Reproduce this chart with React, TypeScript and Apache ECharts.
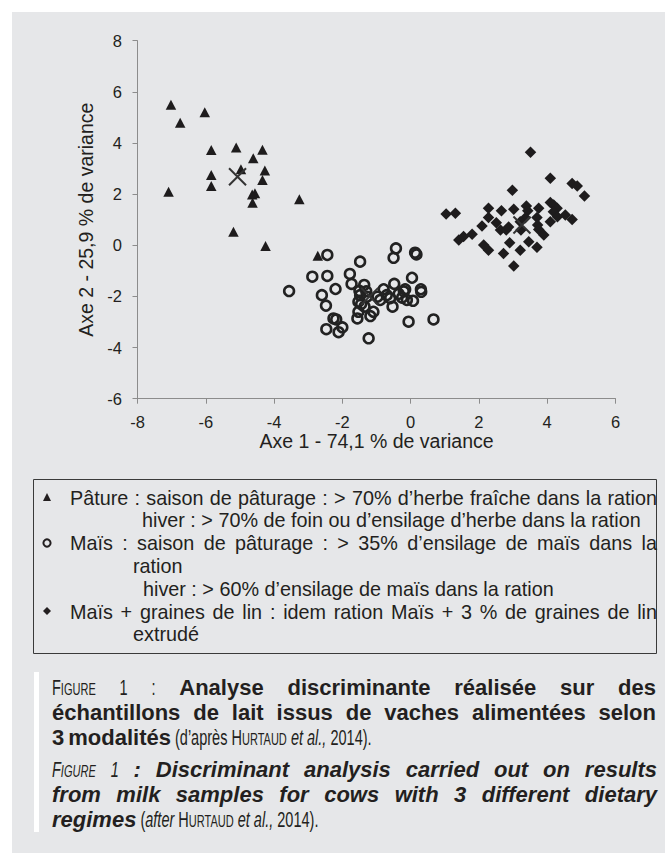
import React, { useEffect, useRef } from "react";
import * as echarts from "echarts";

const FONT = "'Liberation Sans', Arial, Helvetica, sans-serif";
const TXT = "#231f20";

// ---- axes ----
const xAxisRange = [-8, 6];
const yAxisRange = [-6, 8];
const axisStep = 2;
const xAxisName = "Axe 1 - 74,1 % de variance";
const yAxisName = "Axe 2 - 25,9 % de variance";

// ---- data ----
const paturePoints = [
  [-7.02, 5.5], [-6.75, 4.79], [-6.03, 5.2], [-5.84, 3.73], [-5.11, 3.82],
  [-4.34, 3.74], [-4.61, 3.4], [-5.84, 2.75], [-5.84, 2.32], [-4.97, 2.97],
  [-4.27, 2.92], [-4.34, 2.55], [-4.64, 1.99], [-4.56, 2.03], [-4.63, 1.66],
  [-7.09, 2.09], [-3.26, 1.8], [-5.19, 0.53], [-4.25, -0.03], [-2.72, -0.41],
];

const maisPoints = [
  [-2.44, -0.38], [-0.43, -0.12], [-0.5, -0.49], [0.13, -0.29], [0.17, -0.36],
  [-1.48, -0.64], [-2.88, -1.23], [-2.44, -1.2], [-1.78, -1.12], [-3.56, -1.79],
  [-2.6, -1.95], [-2.2, -1.71], [-2.48, -2.36], [-1.73, -1.51], [-1.36, -1.55],
  [-1.48, -1.95], [-1.53, -2.21], [-1.28, -2.01], [-1.35, -2.4], [-1.53, -2.6],
  [-1.56, -2.86], [-1.18, -2.77], [-1.09, -2.6], [-0.97, -2.01], [-0.79, -1.72],
  [-0.48, -1.51], [-0.6, -2.07], [-0.89, -2.14], [-0.53, -2.4], [-0.16, -1.72],
  [-0.11, -2.14], [0.07, -2.17], [0.04, -1.27], [0.3, -1.72], [0.31, -1.82],
  [-2.26, -2.86], [-2.18, -2.9], [-2.47, -3.28], [-2.11, -3.4], [-2.0, -3.21],
  [-1.23, -3.64], [-0.06, -2.99], [0.67, -2.9], [-1.5, -1.78], [-1.3, -1.8],
  [-0.7, -1.95], [-0.35, -1.9], [-0.25, -2.05], [-1.45, -2.3], [-0.2, -1.8],
];

const linPoints = [
  [3.51, 3.64], [4.09, 2.62], [2.98, 2.15], [4.73, 2.42], [4.88, 2.32],
  [5.09, 1.93], [1.04, 1.22], [1.31, 1.25], [2.28, 1.45], [2.66, 1.35],
  [3.02, 1.41], [3.39, 1.54], [3.43, 1.35], [3.75, 1.45], [4.09, 1.67],
  [4.19, 1.57], [4.29, 1.45], [4.53, 1.18], [4.73, 1.01], [2.28, 1.09],
  [2.09, 0.75], [2.51, 0.88], [2.63, 0.6], [2.8, 0.6], [3.23, 0.6],
  [3.36, 1.08], [3.21, 0.92], [3.7, 1.09], [3.72, 0.79], [3.75, 0.62],
  [4.09, 0.92], [3.9, 0.4], [1.41, 0.21], [1.55, 0.34], [1.8, 0.43],
  [2.14, 0.01], [2.28, -0.19], [2.72, -0.32], [2.9, 0.1], [3.21, -0.19],
  [3.46, 0.14], [3.7, -0.08], [3.02, -0.81], [2.87, 0.71], [4.18, 1.31],
  [4.3, 1.12],
];

const centroidPoints = [[-5.07, 2.68], [-1.2, -2.0], [3.26, 0.79]];

// ---- texts ----
type Seg = [string, string];
const legendLines: Seg[][] = [
  [["r", "Pâture : saison de pâturage : > 70% d’herbe fraîche dans la ration"]],
  [["r", "hiver : > 70% de foin ou d’ensilage d’herbe dans la ration"]],
  [["r", "Maïs : saison de pâturage : > 35% d’ensilage de maïs dans la"]],
  [["r", "ration"]],
  [["r", "hiver : > 60% d’ensilage de maïs dans la ration"]],
  [["r", "Maïs + graines de lin : idem ration Maïs + 3 % de graines de lin"]],
  [["r", "extrudé"]],
];

const captionLines: Seg[][] = [
  [["r", "F"], ["rs", "IGURE"], ["r", " 1 : "], ["b", "Analyse discriminante réalisée sur des"]],
  [["b", "échantillons de lait issus de vaches alimentées selon"]],
  [["b", "3 modalités"], ["r", " (d’après "], ["r", "H"], ["rs", "URTAUD"], ["r", " "], ["i", "et al.,"], ["r", " 2014)."]],
  [["i", "F"], ["is", "IGURE"], ["i", " 1"], ["bi", " : Discriminant analysis carried out on results"]],
  [["bi", "from milk samples for cows with 3 different dietary"]],
  [["bi", "regimes"], ["r", " ("], ["i", "after"], ["r", " H"], ["rs", "URTAUD"], ["r", " "], ["i", "et al.,"], ["r", " 2014)."]],
];

// layout (positions only)
const legendLayout = [
  { x: 70, y: 498, j: 657 },
  { x: 142, y: 520 },
  { x: 70, y: 543, j: 657 },
  { x: 133, y: 566 },
  { x: 143, y: 589 },
  { x: 70, y: 612, j: 657 },
  { x: 133, y: 634 },
];
const captionLayout = [
  { x: 52, y: 687, j: 656 },
  { x: 52, y: 712, j: 656 },
  { x: 52, y: 737 },
  { x: 52, y: 769, j: 657 },
  { x: 52, y: 794, j: 657 },
  { x: 52, y: 819 },
];

type FontSpec = { size: number; weight: string; style: string; sx: number };

function makeFonts(size: number, regSx: number, boldSx: number): Record<string, FontSpec> {
  const s = Math.round(size * 0.76 * 10) / 10;
  return {
    r: { size, weight: "normal", style: "normal", sx: regSx },
    rs: { size: s, weight: "normal", style: "normal", sx: regSx },
    b: { size, weight: "bold", style: "normal", sx: boldSx },
    i: { size, weight: "normal", style: "italic", sx: regSx },
    is: { size: s, weight: "normal", style: "italic", sx: regSx },
    bi: { size, weight: "bold", style: "italic", sx: boldSx },
  };
}

let ctx: CanvasRenderingContext2D | null = null;
function measure(t: string, f: FontSpec) {
  if (!ctx) ctx = document.createElement("canvas").getContext("2d");
  ctx!.font = `${f.style} ${f.weight} ${f.size}px ${FONT}`;
  return ctx!.measureText(t).width * f.sx;
}

function toWords(segs: Seg[]) {
  const words: Seg[][] = [];
  let cur: Seg[] = [];
  for (const [k, t] of segs) {
    const parts = t.split(" ");
    parts.forEach((p, i) => {
      if (i > 0) {
        if (cur.length) words.push(cur);
        cur = [];
      }
      if (p) cur.push([k, p]);
    });
  }
  if (cur.length) words.push(cur);
  return words;
}

function layoutLines(lines: Seg[][], layout: any[], fonts: Record<string, FontSpec>) {
  const els: any[] = [];
  lines.forEach((segs, li) => {
    const L = layout[li];
    const words = toWords(segs);
    const widths = words.map((w) => w.reduce((s, [k, t]) => s + measure(t, fonts[k]), 0));
    const total = widths.reduce((a, b) => a + b, 0);
    let gap = measure(" ", fonts.r);
    if (L.j && words.length > 1) gap = (L.j - L.x - total) / (words.length - 1);
    let x = L.x;
    words.forEach((w, wi) => {
      w.forEach(([k, t]) => {
        const f = fonts[k];
        const dy = 0.3465 * (fonts.r.size - f.size);
        els.push({
          type: "text",
          x,
          y: L.y + dy,
          scaleX: f.sx,
          silent: true,
          style: {
            text: t,
            fontSize: f.size,
            fontFamily: FONT,
            fontWeight: f.weight,
            fontStyle: f.style,
            fill: TXT,
            align: "left",
            verticalAlign: "middle",
          },
        });
        x += measure(t, f);
      });
      if (wi < words.length - 1) x += gap;
    });
  });
  return els;
}

export default function App() {
  const ref = useRef<HTMLDivElement>(null);
  useEffect(() => {
    if (!ref.current) return;
    const chart = echarts.init(ref.current, null, { renderer: "svg" });

    const legendFonts = makeFonts(19.8, 1, 1);
    const captionFonts = makeFonts(22, 0.66, 1);
    const graphics: any[] = [
      {
        type: "rect",
        shape: { x: 33.5, y: 479.5, width: 623, height: 174 },
        style: { fill: "none", stroke: "#3a3a3a", lineWidth: 1 },
        silent: true,
      },
      {
        type: "polygon",
        shape: { points: [[47, 493], [51, 501], [43, 501]] },
        style: { fill: TXT },
        silent: true,
      },
      {
        type: "circle",
        shape: { cx: 47, cy: 543, r: 3.6 },
        style: { fill: "none", stroke: TXT, lineWidth: 2 },
        silent: true,
      },
      {
        type: "polygon",
        shape: { points: [[47, 607], [51, 611], [47, 615], [43, 611]] },
        style: { fill: TXT },
        silent: true,
      },
      {
        type: "rect",
        shape: { x: 34, y: 672, width: 5, height: 160 },
        style: { fill: "#ffffff" },
        silent: true,
      },
      ...layoutLines(legendLines, legendLayout, legendFonts),
      ...layoutLines(captionLines, captionLayout, captionFonts),
    ];

    const axisCommon = {
      type: "value",
      interval: axisStep,
      axisLine: { show: true, onZero: false, lineStyle: { color: "#8c8c8c", width: 1 } },
      axisTick: { show: true, inside: false, length: 5, lineStyle: { color: "#8c8c8c" } },
      splitLine: { show: false },
      nameLocation: "middle",
      nameTextStyle: { color: TXT, fontSize: 19.5, fontFamily: FONT },
    };

    chart.setOption({
      animation: false,
      backgroundColor: "transparent",
      grid: { left: 137.5, top: 40.7, width: 478, height: 358 },
      xAxis: {
        ...axisCommon,
        min: xAxisRange[0],
        max: xAxisRange[1],
        name: xAxisName,
        nameGap: 31,
        axisLabel: { color: TXT, fontSize: 16.5, fontFamily: FONT, margin: 14.5 },
      },
      yAxis: {
        ...axisCommon,
        min: yAxisRange[0],
        max: yAxisRange[1],
        name: yAxisName,
        nameGap: 42,
        axisLabel: { color: TXT, fontSize: 16.5, fontFamily: FONT, margin: 15.5 },
      },
      series: [
        {
          name: "Maïs",
          type: "scatter",
          data: maisPoints,
          symbol: "circle",
          symbolSize: 9.8,
          silent: true,
          itemStyle: { color: "rgba(0,0,0,0)", borderColor: "#222222", borderWidth: 2.6, opacity: 1 },
        },
        {
          name: "Maïs + graines de lin",
          type: "scatter",
          data: linPoints,
          symbol: "diamond",
          symbolSize: 11.5,
          silent: true,
          itemStyle: { color: "#1e1c1d", opacity: 1 },
        },
        {
          name: "Pâture",
          type: "scatter",
          data: paturePoints,
          symbol: "triangle",
          symbolSize: [10.5, 10],
          silent: true,
          itemStyle: { color: "#1e1c1d", opacity: 1 },
        },
        {
          name: "Centroïdes",
          type: "scatter",
          data: centroidPoints,
          symbol: "path://M0,0L10,10M10,0L0,10",
          symbolSize: 17,
          silent: true,
          itemStyle: { color: "none", borderColor: "#333333", borderWidth: 2, opacity: 1 },
        },
      ],
      graphic: { elements: graphics },
    });

    return () => chart.dispose();
  }, []);

  return (
    <div style={{ position: "absolute", left: 0, top: 0, width: 665, height: 856, background: "#ffffff", overflow: "hidden" }}>
      <div style={{ position: "absolute", left: 12, top: 12, width: 653, height: 841, background: "#e6e7e9" }} />
      <div ref={ref} style={{ position: "absolute", left: 0, top: 0, width: 665, height: 856 }} />
    </div>
  );
}
